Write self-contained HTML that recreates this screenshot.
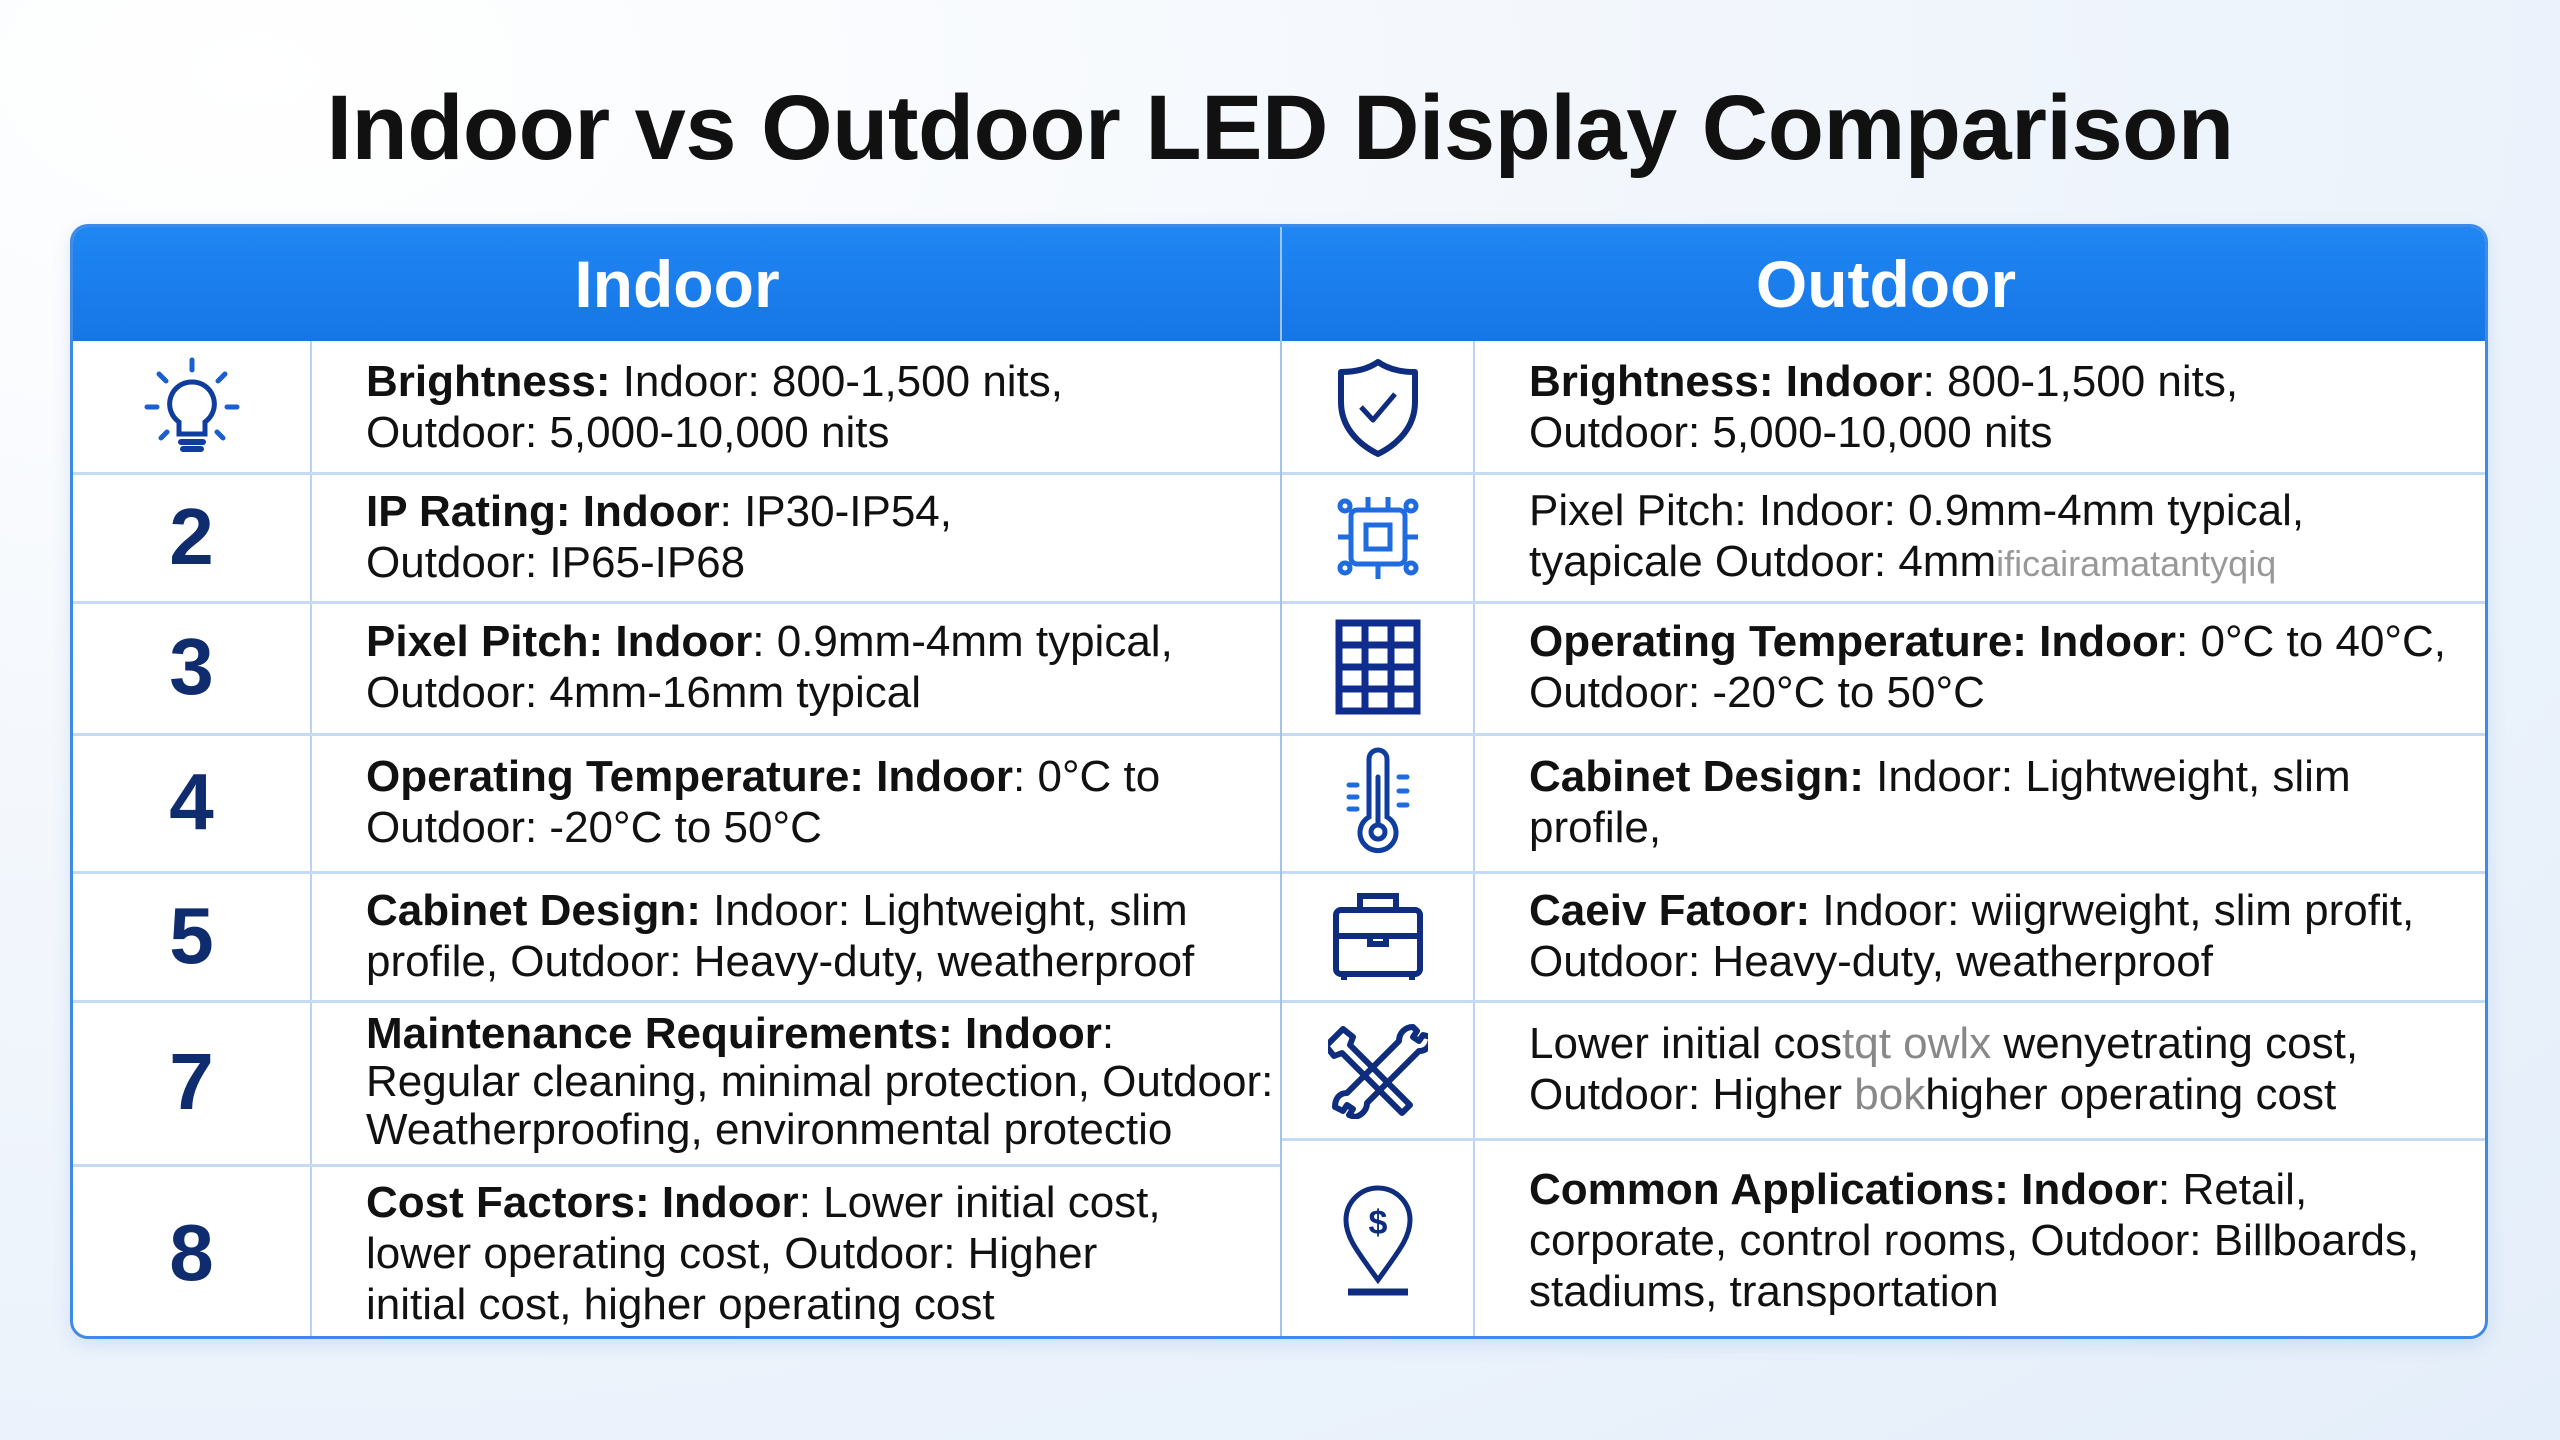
<!DOCTYPE html>
<html><head><meta charset="utf-8"><style>
*{margin:0;padding:0;box-sizing:border-box}
body{width:2560px;height:1440px;overflow:hidden;font-family:"Liberation Sans",sans-serif;background:radial-gradient(ellipse at 10% 5%,#ffffff 0%,#f3f7fc 40%,#e4eefa 100%);position:relative}
.title{position:absolute;top:76px;left:0;width:2560px;text-align:center;font-weight:bold;font-size:92px;color:#111;letter-spacing:-0.5px}
.tbl{position:absolute;left:70px;top:224px;width:2418px;height:1115px;background:#fff;border:3px solid #3d8ae8;border-radius:18px;overflow:hidden;box-shadow:0 6px 18px rgba(60,120,200,.15)}
.hdr{position:absolute;left:0;top:0;width:100%;height:114px;background:linear-gradient(#1f86f2,#1676e6)}
.h{position:absolute;top:0;height:114px;line-height:114px;color:#fff;font-weight:bold;font-size:66px;text-align:center}
.vl{position:absolute;width:2px;background:#b9d3f3}
.hl{position:absolute;height:3px;background:#c5daf3}
.cell{position:absolute;display:flex;align-items:center;font-size:44px;line-height:51px;color:#111}
.num{position:absolute;display:flex;align-items:center;justify-content:center;font-weight:bold;font-size:80px;color:#0f2d6e}
.ic{position:absolute;display:flex;align-items:center;justify-content:center}
b{font-weight:bold}
</style></head><body>
<div class="title">Indoor vs Outdoor LED Display Comparison</div>
<div class="tbl">
<div class="hdr"></div>
<div class="h" style="left:0;width:1208px">Indoor</div>
<div class="h" style="left:1208px;width:1210px">Outdoor</div>
<div class="vl" style="left:1207px;top:0;height:1115px;background:#9fc2ef"></div>
<div class="vl" style="left:237px;top:114px;height:1001px"></div>
<div class="vl" style="left:1400px;top:114px;height:1001px"></div>
<div class="hl" style="left:0;width:1207px;top:245px"></div>
<div class="hl" style="left:0;width:1207px;top:374px"></div>
<div class="hl" style="left:0;width:1207px;top:506px"></div>
<div class="hl" style="left:0;width:1207px;top:644px"></div>
<div class="hl" style="left:0;width:1207px;top:773px"></div>
<div class="hl" style="left:0;width:1207px;top:937px"></div>
<div class="hl" style="left:1209px;width:1210px;top:245px"></div>
<div class="hl" style="left:1209px;width:1210px;top:374px"></div>
<div class="hl" style="left:1209px;width:1210px;top:506px"></div>
<div class="hl" style="left:1209px;width:1210px;top:644px"></div>
<div class="hl" style="left:1209px;width:1210px;top:773px"></div>
<div class="hl" style="left:1209px;width:1210px;top:911px"></div>

<div class="ic" style="left:0;width:237px;top:114px;height:131px">
<svg width="110" height="110" viewBox="0 0 110 110" fill="none" stroke="#1a5fd0" stroke-width="5" stroke-linecap="round"><path d="M55 8v10M22 22l7 7M88 22l-7 7M10 55h10M90 55h10M24 86l6-6M86 86l-6-6"/><path d="M55 30a22 22 0 0 0-13 40v12h26V70a22 22 0 0 0-13-40z" stroke="#0f3d9e"/><path d="M44 90h22M46 97h18" stroke="#0f3d9e" stroke-width="6"/></svg></div>
<div class="num" style="left:0;width:237px;top:245px;height:129px">2</div>
<div class="num" style="left:0;width:237px;top:374px;height:132px">3</div>
<div class="num" style="left:0;width:237px;top:506px;height:138px">4</div>
<div class="num" style="left:0;width:237px;top:644px;height:129px">5</div>
<div class="num" style="left:0;width:237px;top:773px;height:164px">7</div>
<div class="num" style="left:0;width:237px;top:937px;height:178px">8</div>

<div class="cell" style="left:293px;width:910px;top:114px;height:131px"><div><b>Brightness:</b> Indoor: 800-1,500 nits,<br>Outdoor: 5,000-10,000 nits</div></div>
<div class="cell" style="left:293px;width:910px;top:245px;height:129px"><div><b>IP Rating: Indoor</b>: IP30-IP54,<br>Outdoor: IP65-IP68</div></div>
<div class="cell" style="left:293px;width:910px;top:374px;height:132px"><div><b>Pixel Pitch: Indoor</b>: 0.9mm-4mm typical,<br>Outdoor: 4mm-16mm typical</div></div>
<div class="cell" style="left:293px;width:910px;top:506px;height:138px"><div><b>Operating Temperature: Indoor</b>: 0°C to<br>Outdoor: -20°C to 50°C</div></div>
<div class="cell" style="left:293px;width:910px;top:644px;height:129px"><div><b>Cabinet Design:</b> Indoor: Lightweight, slim<br>profile, Outdoor: Heavy-duty, weatherproof</div></div>
<div class="cell" style="left:293px;width:920px;top:773px;height:164px;line-height:48px;white-space:nowrap"><div><b>Maintenance Requirements: Indoor</b>:<br>Regular cleaning, minimal protection, Outdoor:<br>Weatherproofing, environmental protectio</div></div>
<div class="cell" style="left:293px;width:910px;top:937px;height:178px"><div><b>Cost Factors: Indoor</b>: Lower initial cost,<br>lower operating cost, Outdoor: Higher<br>initial cost, higher operating cost</div></div>

<div class="ic" style="left:1209px;width:191px;top:114px;height:131px">
<svg width="90" height="100" viewBox="0 0 90 100" fill="none" stroke="#0f2d7e" stroke-width="6" stroke-linejoin="round"><path d="M45 5c10 7 22 10 37 10v30c0 25-17 42-37 52C25 87 8 70 8 45V15c15 0 27-3 37-10z"/><path d="M28 50l12 13 22-26" stroke-width="5"/></svg></div>
<div class="ic" style="left:1209px;width:191px;top:245px;height:129px">
<svg width="90" height="90" viewBox="0 0 90 90" fill="none" stroke="#1f6be0" stroke-width="5"><rect x="18" y="18" width="54" height="54" rx="6"/><rect x="33" y="33" width="24" height="24"/><circle cx="12" cy="14" r="5"/><circle cx="78" cy="14" r="5"/><circle cx="12" cy="76" r="5"/><circle cx="78" cy="76" r="5"/><path d="M35 5v13M55 5v13M45 72v15M5 45h13M72 45h13"/></svg></div>
<div class="ic" style="left:1209px;width:191px;top:374px;height:132px">
<svg width="86" height="96" viewBox="0 0 86 96" fill="none" stroke="#0f2d8e" stroke-width="7"><rect x="4" y="4" width="78" height="88"/><path d="M30 4v88M56 4v88M4 26h78M4 48h78M4 70h78"/></svg></div>
<div class="ic" style="left:1209px;width:191px;top:506px;height:138px">
<svg width="70" height="110" viewBox="0 0 70 110" fill="none" stroke="#0f3d9e" stroke-width="5" stroke-linecap="round"><path d="M26 70V12a9 9 0 0 1 18 0v58a18 18 0 1 1-18 0z"/><circle cx="35" cy="85" r="7"/><path d="M35 78V30"/><path d="M6 38h8M6 50h8M6 62h8M56 30h8M56 44h8M56 58h8" stroke="#1f6be0"/></svg></div>
<div class="ic" style="left:1209px;width:191px;top:644px;height:129px">
<svg width="96" height="96" viewBox="0 0 96 96" fill="none" stroke="#0f2d7e" stroke-width="6"><rect x="6" y="22" width="84" height="64" rx="5"/><path d="M30 22V8h36v14M6 48h84M40 48v8h16v-8M14 86v6M82 86v6"/></svg></div>
<div class="ic" style="left:1209px;width:191px;top:773px;height:138px">
<svg width="100" height="100" viewBox="0 0 100 100" fill="none" stroke="#0f2d7e" stroke-width="6" stroke-linejoin="round"><path d="M15 10l10 8-3 8 60 60-8 8-60-60-8 3-8-10z"/><path d="M85 8c-8 0-14 6-14 14l-52 52c-8 0-12 6-12 14l8 4 4-6 6 4-4 6 6 2c8-2 12-8 12-14l52-52c8 0 12-6 12-14l-8-2-4 6-6-4 4-6z"/></svg></div>
<div class="ic" style="left:1209px;width:191px;top:911px;height:204px">
<svg width="80" height="116" viewBox="0 0 80 116" fill="none" stroke="#0f2d7e" stroke-width="5"><path d="M40 98C20 70 8 56 8 38a32 32 0 0 1 64 0c0 18-12 32-32 60z"/><path d="M10 110h60" stroke-width="7"/><text x="40" y="52" text-anchor="middle" font-family="Liberation Sans" font-weight="bold" font-size="34" fill="#0f2d7e" stroke="none">$</text></svg></div>

<div class="cell" style="left:1456px;width:950px;top:114px;height:131px"><div><b>Brightness: Indoor</b>: 800-1,500 nits,<br>Outdoor: 5,000-10,000 nits</div></div>
<div class="cell" style="left:1456px;width:950px;top:245px;height:129px;white-space:nowrap"><div>Pixel Pitch: Indoor: 0.9mm-4mm typical,<br>tyapicale Outdoor: 4mm<span style="color:#999;font-size:36px">ificairamatantyqiq</span></div></div>
<div class="cell" style="left:1456px;width:960px;top:374px;height:132px;white-space:nowrap"><div><b>Operating Temperature: Indoor</b>: 0°C to 40°C,<br>Outdoor: -20°C to 50°C</div></div>
<div class="cell" style="left:1456px;width:950px;top:506px;height:138px"><div><b>Cabinet Design:</b> Indoor: Lightweight, slim<br>profile,</div></div>
<div class="cell" style="left:1456px;width:960px;top:644px;height:129px;white-space:nowrap"><div><b>Caeiv Fatoor:</b> Indoor: wiigrweight, slim profit,<br>Outdoor: Heavy-duty, weatherproof</div></div>
<div class="cell" style="left:1456px;width:960px;top:773px;height:138px;white-space:nowrap"><div>Lower initial cos<span style="color:#888">tqt owlx</span> wenyetrating cost,<br>Outdoor: Higher <span style="color:#888">bok</span>higher operating cost</div></div>
<div class="cell" style="left:1456px;width:960px;top:911px;height:204px"><div><b>Common Applications: Indoor</b>: Retail,<br>corporate, control rooms, Outdoor: Billboards,<br>stadiums, transportation</div></div>
</div>
</body></html>
